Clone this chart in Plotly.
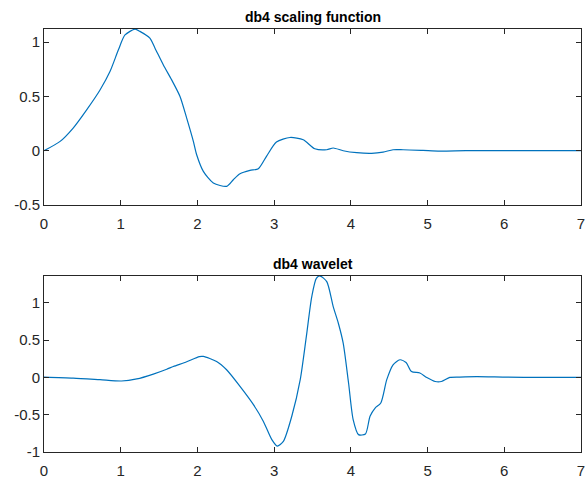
import plotly.graph_objects as go

# db4 scaling function
t_phi = [0, 0.21, 0.38, 0.556, 0.73, 0.86, 0.97, 1.056, 1.186, 1.25, 1.38, 1.447, 1.556,
         1.664, 1.773, 1.86, 1.947, 1.99, 2.077, 2.207, 2.38, 2.468, 2.555, 2.685, 2.794,
         2.90, 3.03, 3.207, 3.38, 3.53, 3.686, 3.77, 3.90, 4.077, 4.27, 4.42, 4.55, 4.68,
         4.94, 5.16, 5.5, 6.0, 6.5, 7.0]
phi = [0, 0.086, 0.209, 0.377, 0.56, 0.73, 0.93, 1.067, 1.12, 1.10, 1.037, 0.945, 0.79,
       0.653, 0.50, 0.30, 0.086, -0.037, -0.19, -0.297, -0.328, -0.267, -0.212, -0.181, -0.166,
       -0.052, 0.08, 0.122, 0.101, 0.018, 0.009, 0.025, 0.0, -0.018, -0.024, -0.013, 0.009, 0.009,
       0.003, -0.003, 0, 0, 0, 0]

# db4 wavelet
t_psi = [0, 0.38, 0.73, 1.01, 1.21, 1.425, 1.60, 1.686, 1.86, 2.025, 2.077, 2.25, 2.38,
         2.555, 2.73, 2.86, 2.97, 3.04, 3.12, 3.23, 3.34, 3.42, 3.49, 3.55, 3.60, 3.686,
         3.77, 3.836, 3.90, 3.97, 4.03, 4.10, 4.19, 4.25, 4.316, 4.39, 4.468, 4.55, 4.64,
         4.72, 4.79, 4.90, 4.99, 5.10, 5.18, 5.29, 5.42, 5.64, 6.0, 6.5, 7.0]
psi = [0.005, -0.008, -0.03, -0.048, -0.02, 0.045, 0.11, 0.147, 0.21, 0.28, 0.282, 0.214, 0.103,
       -0.12, -0.365, -0.59, -0.834, -0.92, -0.857, -0.52, -0.03, 0.55, 1.08, 1.33, 1.36, 1.285,
       0.95, 0.73, 0.46, -0.075, -0.566, -0.767, -0.758, -0.52, -0.41, -0.343, -0.03, 0.17, 0.237,
       0.2, 0.08, 0.059, 0.0, -0.054, -0.054, 0.0, 0.005, 0.01, 0.005, 0, 0]

titles = ["db4 scaling function", "db4 wavelet"]
x_ticks = [0, 1, 2, 3, 4, 5, 6, 7]
y_ticks_top = [-0.5, 0, 0.5, 1]
y_ticks_bot = [-1, -0.5, 0, 0.5, 1]

LINE = "#0072BD"
AX = "#262626"
FONT = "Liberation Sans, Arial, sans-serif"

fig = go.Figure()
fig.add_trace(go.Scatter(x=t_phi, y=phi, mode="lines",
                         line=dict(color=LINE, width=1.2, shape="spline", smoothing=0.7),
                         xaxis="x", yaxis="y", showlegend=False))
fig.add_trace(go.Scatter(x=t_psi, y=psi, mode="lines",
                         line=dict(color=LINE, width=1.2, shape="spline", smoothing=0.7),
                         xaxis="x2", yaxis="y2", showlegend=False))

def xax(anchor):
    return dict(range=[0, 7], tickvals=x_ticks, ticks="inside", ticklen=5, tickcolor=AX,
                showline=True, linecolor=AX, linewidth=1, mirror="ticks", showgrid=False,
                zeroline=False, anchor=anchor, domain=[0, 1], ticklabelstandoff=5,
                automargin=False,
                tickfont=dict(family=FONT, size=15, color=AX))

def yax(anchor, rng, ticks, dom):
    return dict(range=rng, tickvals=ticks, ticktext=[f"{v:g}" for v in ticks], ticks="inside",
                ticklen=5, tickcolor=AX, showline=True, linecolor=AX, linewidth=1,
                mirror="ticks", showgrid=False, zeroline=False, anchor=anchor, domain=dom,
                automargin=False,
                tickfont=dict(family=FONT, size=15, color=AX))

fig.update_layout(
    width=587, height=479,
    margin=dict(l=44, r=6, t=29, b=27),
    paper_bgcolor="white", plot_bgcolor="white",
    xaxis=xax("y"),
    yaxis=yax("x", [-0.5, 1.122], y_ticks_top, [0.584, 1.0]),
    xaxis2=xax("y2"),
    yaxis2=yax("x2", [-1, 1.36], y_ticks_bot, [0.0, 0.416]),
    annotations=[
        dict(text=f"<b>{titles[0]}</b>", x=0.5, y=1.0, xref="paper", yref="paper",
             xanchor="center", yanchor="bottom", showarrow=False, yshift=2,
             font=dict(family=FONT, size=14, color="black")),
        dict(text=f"<b>{titles[1]}</b>", x=0.5, y=0.416, xref="paper", yref="paper",
             xanchor="center", yanchor="bottom", showarrow=False, yshift=2,
             font=dict(family=FONT, size=14, color="black")),
    ],
)

fig.write_html("out.html")
